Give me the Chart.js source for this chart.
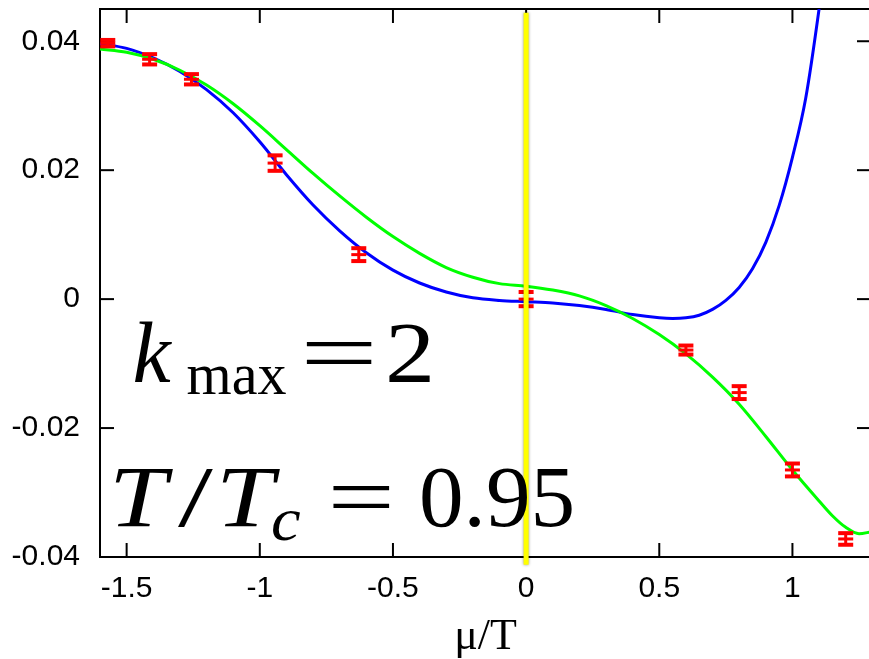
<!DOCTYPE html>
<html>
<head>
<meta charset="utf-8">
<script src="https://cdn.jsdelivr.net/npm/chart.js@4.4.1/dist/chart.umd.min.js"></script>
<style>
  html, body { margin: 0; padding: 0; background: #fff; overflow: hidden; }
  #wrap { position: absolute; left: 0; top: 0; width: 873px; height: 659px; }
</style>
</head>
<body>
<div id="wrap"><canvas id="chart"></canvas></div>
<script>
// lattice points: mu/T, value, error
const muPoints = [-1.5708, -1.4137, -1.2566, -0.9425, -0.6283, 0, 0.6, 0.8, 1.0, 1.2];
const pointVals = [0.0397, 0.0372, 0.0341, 0.0211, 0.0069, 0.0000, -0.0079, -0.0145, -0.0265, -0.0372];
const pointErrs = [0.0005, 0.0008, 0.0008, 0.0012, 0.0010, 0.0011, 0.0007, 0.0010, 0.0010, 0.0009];

// blue fit curve
const muBlue = [-1.6, -1.5, -1.4, -1.3, -1.2, -1.1, -1.0, -0.9, -0.8, -0.7, -0.6, -0.5, -0.4, -0.3, -0.2, -0.1,
  0, 0.1, 0.2, 0.3, 0.4, 0.5, 0.55, 0.6, 0.65, 0.7, 0.75, 0.8, 0.85, 0.9, 0.95, 1.0, 1.05, 1.1, 1.12];
const blueVals = [0.0396, 0.0389, 0.0374, 0.0353, 0.0325, 0.0289, 0.0244, 0.0193, 0.0146, 0.0106, 0.0072, 0.0045, 0.0025, 0.0011, 0.0002, -0.0002,
  -0.0004, -0.0006, -0.0010, -0.0016, -0.0024, -0.0029, -0.0030, -0.0029, -0.0025, -0.0016, -0.0002, 0.0018, 0.0047, 0.0088, 0.0145, 0.0220, 0.0312, 0.0450, 0.0515];

// green fit curve
const muGreen = [-1.6, -1.5, -1.4, -1.3, -1.2, -1.1, -1.0, -0.9, -0.8, -0.7, -0.6, -0.5, -0.4, -0.3, -0.2, -0.1,
  0, 0.1, 0.2, 0.3, 0.4, 0.5, 0.6, 0.7, 0.8, 0.9, 1.0, 1.1, 1.15, 1.2, 1.25, 1.295];
const greenVals = [0.0388, 0.0383, 0.0372, 0.0355, 0.0332, 0.0303, 0.0269, 0.0232, 0.0195, 0.0160, 0.0127, 0.0097, 0.0071, 0.0049, 0.0034, 0.0024,
  0.0020, 0.0014, 0.0005, -0.0010, -0.0030, -0.0055, -0.0085, -0.0121, -0.0163, -0.0213, -0.0265, -0.0313, -0.0336, -0.0354, -0.0364, -0.0361];

const xTicks = [-1.5, -1, -0.5, 0, 0.5, 1];
const yTicks = [-0.04, -0.02, 0, 0.02, 0.04];

// yellow marker at mu = 0
const markMu = 0;
const markRange = [-0.0412, 0.0444];

const pts = (xs, ys) => xs.map((x, i) => ({ x: x, y: ys[i] }));

function line(ctx, x1, y1, x2, y2) {
  ctx.beginPath(); ctx.moveTo(x1, y1); ctx.lineTo(x2, y2); ctx.stroke();
}

// draw text so its ink starts at `left`; stretch to `width` if given
function drawInk(ctx, text, font, left, width, base) {
  ctx.font = font;
  const m = ctx.measureText(text);
  const inkW = m.actualBoundingBoxLeft + m.actualBoundingBoxRight;
  ctx.save();
  ctx.translate(left, base);
  if (width) ctx.scale(width / inkW, 1);
  ctx.fillText(text, m.actualBoundingBoxLeft, 0);
  ctx.restore();
}

const SERIF = '"Liberation Serif", "Times New Roman", serif';
const notes = [
  { mu: -1.4705, y: -0.0128, parts: [
    ['k', 'italic 86px ' + SERIF, 0, 0, 0],
    ['max', '60px ' + SERIF, 53, 99, 12],
    ['=', '86px ' + SERIF, 172, 66, 0],
    ['2', '86px ' + SERIF, 254, 42, 0]
  ]},
  { mu: -1.551, y: -0.0352, parts: [
    ['T', 'italic 86px ' + SERIF, 2, 58, 0],
    ['/', '86px ' + SERIF, 65, 35, 0],
    ['T', 'italic 86px ' + SERIF, 109, 58, 0],
    ['c', 'italic 62px ' + SERIF, 159, 28, 14],
    ['=', '86px ' + SERIF, 220, 57, 0],
    ['0.95', '86px ' + SERIF, 309, 150, 0]
  ]}
];

const framePlugin = {
  id: 'frame',
  beforeDatasetsDraw(chart) {
    const { ctx, chartArea: a, scales: { x, y } } = chart;
    ctx.save();
    ctx.strokeStyle = '#000';
    ctx.lineWidth = 2;
    ctx.strokeRect(a.left, a.top, a.right - a.left, a.bottom - a.top);
    const L = 14;
    xTicks.forEach(v => {
      const px = x.getPixelForValue(v);
      line(ctx, px, a.bottom, px, a.bottom - L);
      line(ctx, px, a.top, px, a.top + L);
    });
    yTicks.forEach(v => {
      const py = y.getPixelForValue(v);
      line(ctx, a.left, py, a.left + L, py);
      line(ctx, a.right, py, a.right - L, py);
    });
    ctx.restore();
  },
  beforeDatasetDraw(chart, args) {
    if (args.index !== 0) return;
    const { ctx, scales: { y } } = chart;
    const meta = chart.getDatasetMeta(1);
    ctx.save();
    ctx.strokeStyle = '#ff0000';
    meta.data.forEach((p, i) => {
      const top = y.getPixelForValue(pointVals[i] + pointErrs[i]);
      const bot = y.getPixelForValue(pointVals[i] - pointErrs[i]);
      const w = 7.5;
      ctx.lineWidth = 3;
      line(ctx, p.x, top, p.x, bot);
      ctx.lineWidth = 4;
      line(ctx, p.x - w, top, p.x + w, top);
      line(ctx, p.x - w, bot, p.x + w, bot);
      ctx.lineWidth = 3;
      line(ctx, p.x - w, p.y, p.x + w, p.y);
    });
    ctx.restore();
    ctx.save();
    ctx.shadowColor = 'rgba(0,0,0,0.45)';
    ctx.shadowBlur = 3;
  },
  afterDatasetDraw(chart, args) {
    if (args.index === 0) chart.ctx.restore();
  },
  afterDraw(chart) {
    const { ctx, scales: { x, y } } = chart;
    ctx.save();
    ctx.fillStyle = '#000';
    ctx.textAlign = 'left';
    ctx.textBaseline = 'alphabetic';
    notes.forEach(n => {
      const x0 = x.getPixelForValue(n.mu);
      const b0 = y.getPixelForValue(n.y);
      n.parts.forEach(([t, f, dx, w, db]) => drawInk(ctx, t, f, x0 + dx, w, b0 + db));
    });
    ctx.restore();
  }
};

new Chart(document.getElementById('chart'), {
  type: 'scatter',
  data: {
    datasets: [
      { label: 'mu=0', data: [{ x: markMu, y: markRange[0] }, { x: markMu, y: markRange[1] }],
        showLine: true, borderColor: '#ffff00', borderWidth: 5, pointRadius: 0, clip: false, order: 0 },
      { label: 'lattice', data: pts(muPoints, pointVals), showLine: false, pointRadius: 0, order: 1 },
      { label: 'fit 2', data: pts(muGreen, greenVals), showLine: true, borderColor: '#00ff00', borderWidth: 3,
        pointRadius: 0, cubicInterpolationMode: 'monotone', order: 2 },
      { label: 'fit 1', data: pts(muBlue, blueVals), showLine: true, borderColor: '#0000ff', borderWidth: 3,
        pointRadius: 0, cubicInterpolationMode: 'monotone', order: 3 }
    ]
  },
  options: {
    responsive: true,
    maintainAspectRatio: false,
    animation: false,
    layout: { padding: { top: 9, right: 2, left: 0, bottom: 0 } },
    plugins: { legend: { display: false }, tooltip: { enabled: false } },
    scales: {
      x: {
        type: 'linear', min: -1.6, max: 1.295,
        grid: { display: false, drawTicks: false },
        border: { display: false },
        afterFit: s => { s.height = 102; s.paddingLeft = 0; s.paddingRight = 0; },
        afterBuildTicks: s => { s.ticks = xTicks.map(v => ({ value: v })); },
        ticks: { padding: 17, color: '#000', maxRotation: 0, autoSkip: false,
          font: { family: '"Liberation Sans", Arial, sans-serif', size: 30, lineHeight: 1 },
          callback: v => String(v) },
        title: { display: true, text: 'μ/T', color: '#000', padding: 0,
          font: { family: SERIF, size: 44, lineHeight: 1 } }
      },
      y: {
        type: 'linear', min: -0.04, max: 0.045,
        grid: { display: false, drawTicks: false },
        border: { display: false },
        afterFit: s => { s.width = 100; s.paddingTop = 0; s.paddingBottom = 0; },
        afterBuildTicks: s => { s.ticks = yTicks.map(v => ({ value: v })); },
        ticks: { padding: 20, color: '#000', autoSkip: false,
          font: { family: '"Liberation Sans", Arial, sans-serif', size: 30, lineHeight: 1 },
          callback: v => String(+v.toFixed(2)) }
      }
    }
  },
  plugins: [framePlugin]
});
</script>
</body>
</html>
